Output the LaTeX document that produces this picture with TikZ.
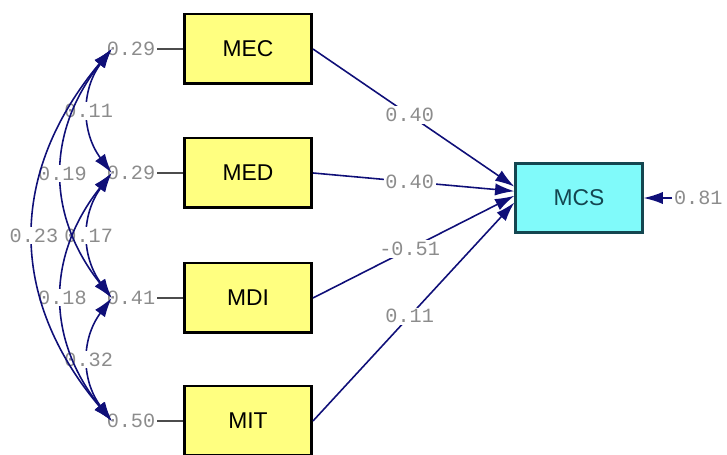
\documentclass[tikz,border=0pt]{standalone}
\usepackage{fontspec}
\setmainfont{Liberation Sans}
\newfontfamily\lblfont{Liberation Mono}
\usetikzlibrary{arrows.meta}

\definecolor{obsyellow}{RGB}{255,255,128}
\definecolor{latcyan}{RGB}{128,250,250}
\definecolor{latedge}{RGB}{20,70,80}
\definecolor{pathblue}{RGB}{15,15,120}
\definecolor{lblgray}{RGB}{140,140,140}

\begin{document}
\begin{tikzpicture}[x=0.02cm, y=-0.02cm,
  obs/.style={draw=black, line width=1.7pt, fill=obsyellow, minimum width=2.54cm,
    minimum height=1.4cm, font=\fontsize{13}{14}\selectfont},
  lat/.style={draw=latedge, line width=1.3pt, fill=latcyan, text=latedge,
    minimum width=2.54cm, minimum height=1.38cm, font=\fontsize{13}{14}\selectfont},
  lbl/.style={fill=white, inner sep=1pt, text=lblgray, font=\lblfont\fontsize{11.5}{12}\selectfont},
  err/.style={inner sep=1pt, text=lblgray, font=\lblfont\fontsize{11.5}{12}\selectfont},
  path/.style={draw=pathblue, line width=0.9pt, -{Latex[length=11pt, width=7pt]}},
  cov/.style={draw=pathblue, line width=0.9pt, {Latex[length=11pt, width=7pt]}-{Latex[length=11pt, width=7pt]}},
  link/.style={draw=black!70, line width=0.9pt}]
  \useasboundingbox (0,0) rectangle (727,455);

  % observed variables
  \node[obs] (MEC) at (248,49)  {MEC};
  \node[obs] (MED) at (248,173) {MED};
  \node[obs] (MDI) at (248,298) {MDI};
  \node[obs] (MIT) at (248,421) {MIT};
  \node[lat] (MCS) at (579,198) {MCS};

  % error variances
  \node[err] (e1) at (131,49)  {0.29};
  \node[err] (e2) at (131,173) {0.29};
  \node[err] (e3) at (131,298) {0.41};
  \node[err] (e4) at (131,421) {0.50};
  \node[err, anchor=west] (e5) at (672,198) {0.81};

  \draw[link] (e1) -- (MEC);
  \draw[link] (e2) -- (MED);
  \draw[link] (e3) -- (MDI);
  \draw[link] (e4) -- (MIT);
  \draw[path] (e5) -- (MCS);

  % covariances
  \draw[cov] ([xshift=4pt]e1.west) .. controls (81,90) and (81,132) .. ([xshift=4pt]e2.west)
    node[lbl, pos=0.5] {0.11};
  \draw[cov] ([xshift=4pt]e2.west) .. controls (81,215) and (81,256) .. ([xshift=4pt]e3.west)
    node[lbl, pos=0.5] {0.17};
  \draw[cov] ([xshift=4pt]e3.west) .. controls (81,339) and (81,380) .. ([xshift=4pt]e4.west)
    node[lbl, pos=0.5] {0.32};
  \draw[cov] ([xshift=4pt]e1.west) .. controls (46,132) and (46,215) .. ([xshift=4pt]e3.west)
    node[lbl, pos=0.5] {0.19};
  \draw[cov] ([xshift=4pt]e2.west) .. controls (46,256) and (46,339) .. ([xshift=4pt]e4.west)
    node[lbl, pos=0.5] {0.18};
  \draw[cov] ([xshift=4pt]e1.west) .. controls (8,173) and (8,298) .. ([xshift=4pt]e4.west)
    node[lbl, pos=0.5] {0.23};

  % paths to MCS
  \draw[path] (MEC.east) -- node[lbl, pos=0.48] {0.40} (MCS.170);
  \draw[path] (MED.east) -- node[lbl, pos=0.48] {0.40} (MCS.174);
  \draw[path] (MDI.east) -- node[lbl, pos=0.48] {-0.51} (MCS.178);
  \draw[path] (MIT.east) -- node[lbl, pos=0.48] {0.11} (MCS.184);
\end{tikzpicture}
\end{document}
